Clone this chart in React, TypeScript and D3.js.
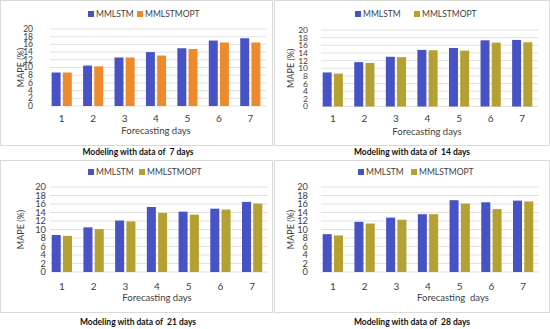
import React from "react";
import * as d3 from "d3";

const days = ["1", "2", "3", "4", "5", "6", "7"];
const yTicks = [0, 2, 4, 6, 8, 10, 12, 14, 16, 18, 20];
const seriesNames = ["MMLSTM", "MMLSTMOPT"];

const mmlstm7 = [8.7, 10.5, 12.6, 14.0, 15.0, 17.0, 17.6];
const opt7 = [8.7, 10.3, 12.6, 13.1, 14.8, 16.5, 16.5];
const mmlstm14 = [8.9, 11.6, 13.0, 14.8, 15.3, 17.3, 17.4];
const opt14 = [8.6, 11.4, 12.9, 14.7, 14.6, 16.7, 16.8];
const mmlstm21 = [8.7, 10.5, 12.1, 15.3, 14.2, 14.9, 16.5];
const opt21 = [8.5, 10.1, 11.9, 13.9, 13.5, 14.7, 16.1];
const mmlstm28 = [8.9, 11.8, 12.8, 13.6, 16.9, 16.4, 16.8];
const opt28 = [8.6, 11.4, 12.3, 13.6, 16.1, 14.8, 16.6];

const titles = [
  "Modeling with data of  7 days",
  "Modeling with data of  14 days",
  "Modeling with data of  21 days",
  "Modeling with data of  28 days",
];

const BLUE = "#4752c4";
const ORANGE = "#ed8a2c";
const OLIVE = "#b5a033";
const FONT = "Lato, 'Open Sans', sans-serif";

type Layout = {
  box: [number, number, number, number];
  x: [number, number];
  y: [number, number];
  tickX: number;
  yLabelX: number;
  legendY: number;
  legend: [number, number];
  xLabelY: number;
  xTitle: [number, number];
  xTitleText: string;
  title: [number, number];
};

const layouts: Layout[] = [
  { box: [0.5, 0.5, 272, 145], x: [46, 266], y: [106, 29], tickX: 33, yLabelX: 21, legendY: 14,
    legend: [88, 137], xLabelY: 118, xTitle: [156, 131], xTitleText: "Forecasting days", title: [138, 152] },
  { box: [274.5, 0.5, 275, 145], x: [317, 538], y: [106.5, 30], tickX: 308, yLabelX: 291, legendY: 14,
    legend: [355, 414], xLabelY: 118, xTitle: [427, 132], xTitleText: "Forecasting days", title: [412, 152] },
  { box: [0.5, 160.5, 272, 152], x: [46, 268], y: [272, 187], tickX: 46, yLabelX: 21, legendY: 172,
    legend: [88, 139], xLabelY: 286, xTitle: [157, 298], xTitleText: "Forecasting days", title: [138, 322] },
  { box: [274.5, 160.5, 275, 152], x: [317, 539], y: [272, 187], tickX: 308, yLabelX: 291, legendY: 172,
    legend: [358, 411], xLabelY: 286, xTitle: [453, 298], xTitleText: "Forecasting  days", title: [412, 322] },
];

const panelData = [
  [mmlstm7, opt7],
  [mmlstm14, opt14],
  [mmlstm21, opt21],
  [mmlstm28, opt28],
];
const optColors = [ORANGE, OLIVE, OLIVE, OLIVE];

const Panel = ({ i }: { i: number }) => {
  const L = layouts[i];
  const [a, b] = panelData[i];
  const x = d3.scaleBand().domain(days).range(L.x).paddingInner(0.36).paddingOuter(0.18);
  const inner = d3.scaleBand().domain(seriesNames).range([0, x.bandwidth()]).paddingInner(0.2);
  const y = d3.scaleLinear().domain([0, 20]).range(L.y);
  const colors = [BLUE, optColors[i]];
  const step = Math.abs(y(2) - y(0));
  return (
    <g>
      <rect x={L.box[0]} y={L.box[1]} width={L.box[2]} height={L.box[3]} fill="#fff" stroke="#d9d9d9" />
      {yTicks.map((t) => (
        <g key={t}>
          <line x1={L.x[0] + 4} x2={L.x[1]} y1={y(t)} y2={y(t)} stroke="#d9d9d9" strokeWidth={0.8} />
          <text x={L.tickX} y={y(t)} dy="0.35em" textAnchor="end" fontSize={Math.min(9.5, step + 0.8)} fill="#404040">{t}</text>
        </g>
      ))}
      {[a, b].map((vals, s) =>
        vals.map((v, k) => (
          <rect key={s + "-" + k}
            x={(x(days[k]) ?? 0) + (inner(seriesNames[s]) ?? 0)}
            y={y(v)} width={inner.bandwidth()} height={y(0) - y(v)} fill={colors[s]} />
        ))
      )}
      {days.map((d) => (
        <text key={d} x={(x(d) ?? 0) + x.bandwidth() / 2} y={L.xLabelY} dy="0.35em" textAnchor="middle" fontSize={10} fill="#404040">{d}</text>
      ))}
      <text transform={`translate(${L.yLabelX},${(L.y[0] + L.y[1]) / 2}) rotate(-90)`} textAnchor="middle" dy="0.35em" fontSize={9} fill="#404040">MAPE (%)</text>
      <text x={L.xTitle[0]} y={L.xTitle[1]} dy="0.35em" textAnchor="middle" fontSize={9.5} fill="#404040" style={{ whiteSpace: "pre" }}>{L.xTitleText}</text>
      {seriesNames.map((n, s) => (
        <g key={n}>
          <rect x={L.legend[s]} y={L.legendY - 3} width={6} height={6} fill={colors[s]} />
          <text x={L.legend[s] + 8} y={L.legendY} dy="0.35em" fontSize={8.5} fill="#404040">{n}</text>
        </g>
      ))}
      <text x={L.title[0]} y={L.title[1]} dy="0.35em" textAnchor="middle" fontSize={8.5} fontWeight="bold" fill="#111" style={{ whiteSpace: "pre" }}>{titles[i]}</text>
    </g>
  );
};

export default function App() {
  return (
    <svg width={550} height={329} style={{ position: "absolute", left: 0, top: 0, background: "#fff" }} fontFamily={FONT}>
      {[0, 1, 2, 3].map((i) => (
        <Panel key={i} i={i} />
      ))}
    </svg>
  );
}
